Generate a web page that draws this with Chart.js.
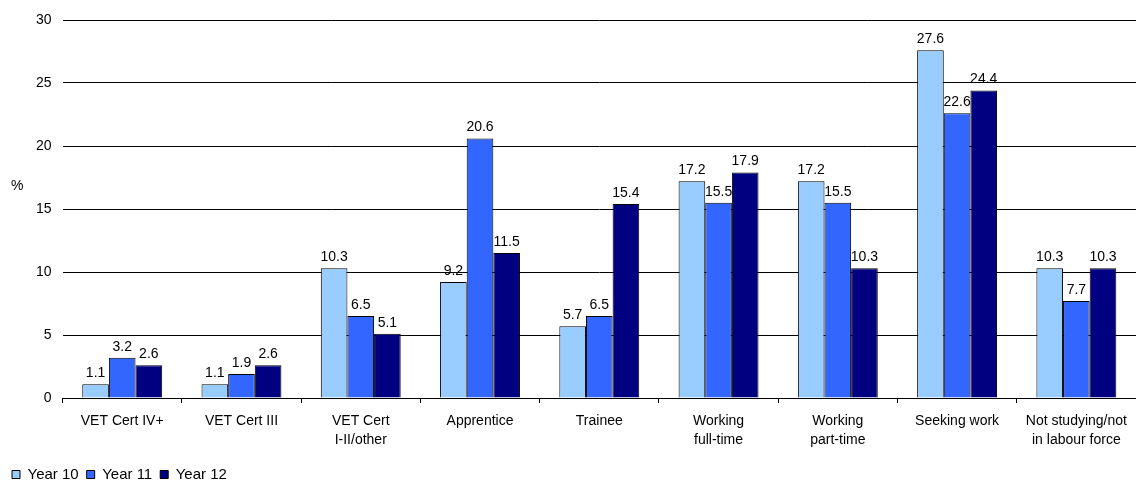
<!DOCTYPE html>
<html>
<head>
<meta charset="utf-8">
<script src="https://cdn.jsdelivr.net/npm/chart.js@4/dist/chart.umd.min.js"></script>
<style>
  html, body { margin: 0; padding: 0; background: #fff; }
  #wrap { width: 1136px; height: 481px; position: relative; }
</style>
</head>
<body>
<div id="wrap"><canvas id="c"></canvas></div>
<script>
const categories = [
  'VET Cert IV+',
  'VET Cert III',
  ['VET Cert', 'I-II/other'],
  'Apprentice',
  'Trainee',
  ['Working', 'full-time'],
  ['Working', 'part-time'],
  'Seeking work',
  ['Not studying/not', 'in labour force']
];
const year10 = [1.1, 1.1, 10.3, 9.2, 5.7, 17.2, 17.2, 27.6, 10.3];
const year11 = [3.2, 1.9, 6.5, 20.6, 6.5, 15.5, 15.5, 22.6, 7.7];
const year12 = [2.6, 2.6, 5.1, 11.5, 15.4, 17.9, 10.3, 24.4, 10.3];
const yTicks = [0, 5, 10, 15, 20, 25, 30];

const FONT = 'Liberation Sans, Arial, sans-serif';

// Writes each bar's value just above it, and the "%" unit beside the value axis
const valueLabels = {
  id: 'valueLabels',
  afterDatasetsDraw(chart) {
    const ctx = chart.ctx;
    ctx.save();
    ctx.font = '14px ' + FONT;
    ctx.fillStyle = '#000';
    ctx.textAlign = 'center';
    ctx.textBaseline = 'bottom';
    chart.data.datasets.forEach((ds, i) => {
      const meta = chart.getDatasetMeta(i);
      meta.data.forEach((bar, j) => {
        ctx.fillText(ds.data[j].toFixed(1), bar.x, bar.y - 4);
      });
    });
    ctx.textAlign = 'left';
    ctx.textBaseline = 'middle';
    ctx.fillText('%', 11, 186);
    ctx.restore();
  }
};

const chart = new Chart(document.getElementById('c'), {
  type: 'bar',
  data: {
    labels: categories,
    datasets: [
      { label: 'Year 10', data: year10, backgroundColor: '#99CCFF', borderColor: '#000', borderWidth: 1 },
      { label: 'Year 11', data: year11, backgroundColor: '#3366FF', borderColor: '#000', borderWidth: 1 },
      { label: 'Year 12', data: year12, backgroundColor: '#000080', borderColor: '#000', borderWidth: 1 }
    ]
  },
  options: {
    responsive: true,
    maintainAspectRatio: false,
    animation: false,
    devicePixelRatio: 1,
    layout: { padding: { left: 4, right: 0, top: 20, bottom: 0 } },
    datasets: { bar: { categoryPercentage: 0.67, barPercentage: 1.0 } },
    scales: {
      x: {
        grid: { offset: true, drawOnChartArea: false, drawTicks: true, tickLength: 5, color: '#000' },
        border: { display: true, color: '#000', width: 1 },
        ticks: { color: '#000', font: { family: FONT, size: 14, lineHeight: '19px' }, padding: 9, maxRotation: 0, autoSkip: false }
      },
      y: {
        min: 0, max: 30,
        afterBuildTicks(scale) { scale.ticks = yTicks.map(v => ({ value: v })); },
        grid: { color: '#000', lineWidth: 1, drawTicks: false },
        border: { display: false },
        ticks: { color: '#000', font: { family: FONT, size: 14 }, padding: 11 },
        afterFit(scale) { scale.width += 21; }
      }
    },
    plugins: {
      legend: {
        position: 'bottom',
        align: 'start',
        labels: { color: '#000', font: { family: FONT, size: 15 }, boxWidth: 8, boxHeight: 8, padding: 8 }
      },
      tooltip: { enabled: false }
    }
  },
  plugins: [valueLabels]
});

// Tighten the legend's reserved height so the key sits close to the bottom edge
const legendBox = chart.legend;
const baseFit = legendBox.fit.bind(legendBox);
legendBox.fit = function () { baseFit(); this.height -= 11; };
chart.update();
</script>
</body>
</html>
